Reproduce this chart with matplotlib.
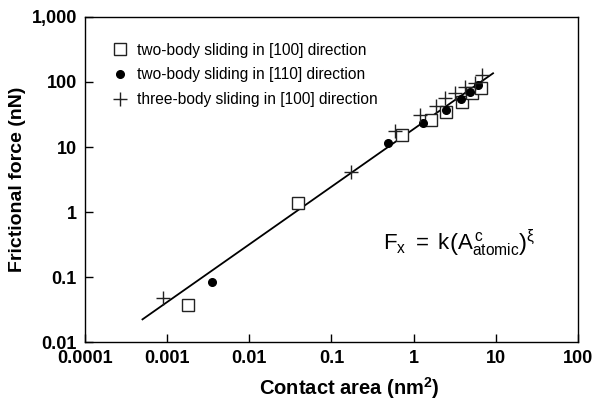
import matplotlib.pyplot as plt

plt.rcParams['font.family'] = ['Liberation Sans', 'DejaVu Sans']
plt.rcParams['mathtext.fontset'] = 'custom'
plt.rcParams['mathtext.rm'] = 'Liberation Sans'
plt.rcParams['mathtext.it'] = 'Liberation Sans'
plt.rcParams['mathtext.bf'] = 'Liberation Sans:bold'

# two-body sliding in [100] direction
sq_x = [0.0018, 0.039, 0.72, 1.65, 2.5, 3.9, 5.1, 6.6]
sq_y = [0.037, 1.36, 15.3, 26, 34, 50, 67, 80]

# two-body sliding in [110] direction
ci_x = [0.0035, 0.49, 1.31, 2.51, 3.75, 4.92, 6.1]
ci_y = [0.085, 11.6, 23.2, 37, 55, 71, 90]

# three-body sliding in [100] direction
pl_x = [0.0009, 0.175, 0.59, 1.19, 1.9, 2.4, 3.17, 4.2, 5.56, 6.8]
pl_y = [0.047, 4.17, 17.6, 31, 42, 56, 67, 85, 95, 128]

# fitted power law, end points
fit_x = [0.0005, 9.3]
fit_y = [0.0224, 136]

fig = plt.figure(figsize=(5.95, 4.03), dpi=100)
ax = fig.add_axes([0.143, 0.151, 0.828, 0.807])

ax.plot(fit_x, fit_y, color='black', lw=1.3, zorder=1)
ax.plot(sq_x, sq_y, ls='none', marker='s', ms=8.5, mfc='white', mec='#222222',
        mew=1.0, label='two-body sliding in [100] direction', zorder=2)
ax.plot(ci_x, ci_y, ls='none', marker='o', ms=5.5, color='black',
        label='two-body sliding in [110] direction', zorder=3)
ax.plot(pl_x, pl_y, ls='none', marker='+', ms=10, mew=1.0, color='#222222',
        label='three-body sliding in [100] direction', zorder=4)

ax.set_xscale('log')
ax.set_yscale('log')
ax.set_xlim(1e-4, 100)
ax.set_ylim(0.01, 1000)

xticks = [0.0001, 0.001, 0.01, 0.1, 1, 10, 100]
xlabels = ['0.0001', '0.001', '0.01', '0.1', '1', '10', '100']
yticks = [0.01, 0.1, 1, 10, 100, 1000]
ylabels = ['0.01', '0.1', '1', '10', '100', '1,000']
ax.set_xticks(xticks)
ax.set_xticklabels(xlabels)
ax.set_yticks(yticks)
ax.set_yticklabels(ylabels)
ax.minorticks_off()
ax.tick_params(direction='in', length=6, width=1, labelsize=13, pad=6)
for lab in ax.get_xticklabels() + ax.get_yticklabels():
    lab.set_fontweight('bold')

for s in ax.spines.values():
    s.set_linewidth(1.0)

ax.set_xlabel('Contact area (nm$\\mathbf{^2}$)', fontsize=14.5, fontweight='bold')
ax.xaxis.set_label_coords(0.537, -0.1)
ax.set_ylabel('Frictional force (nN)', fontsize=14, fontweight='bold')
ax.yaxis.set_label_coords(-0.12, 0.5)

ax.legend(loc='upper left', frameon=False, fontsize=11.2, handletextpad=0.55,
          borderaxespad=0.0, labelspacing=0.62, handlelength=1.0,
          bbox_to_anchor=(0.043, 0.94))

ax.text(0.605, 0.305, r'$\mathrm{F_x\ =\ k\left(A^{\,c}_{atomic}\right)^{\xi}}$',
        transform=ax.transAxes, fontsize=16, va='center')

fig.savefig('out.png', dpi=100)
